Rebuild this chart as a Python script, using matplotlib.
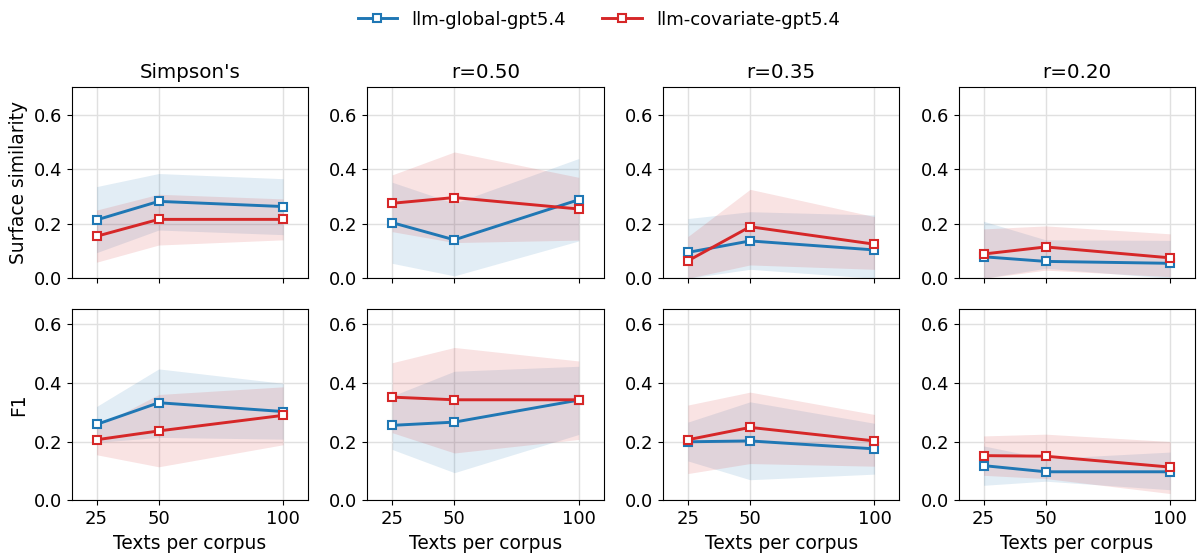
import matplotlib
matplotlib.use("Agg")
import matplotlib.pyplot as plt
import numpy as np

sizes = [25, 50, 100]
panels = ["Simpson's", "r=0.50", "r=0.35", "r=0.20"]
metrics = ["Surface similarity", "F1"]
series = ["llm-global-gpt5.4", "llm-covariate-gpt5.4"]
colors = ["#1f77b4", "#d62728"]

# Surface similarity: mean, lower, upper per panel
sim_global_mean = [[0.214, 0.282, 0.263], [0.204, 0.141, 0.288], [0.095, 0.137, 0.104], [0.079, 0.062, 0.055]]
sim_global_lo = [[0.094, 0.177, 0.160], [0.055, 0.009, 0.137], [0.000, 0.033, 0.000], [0.000, 0.037, 0.000]]
sim_global_hi = [[0.336, 0.384, 0.365], [0.352, 0.275, 0.439], [0.219, 0.244, 0.232], [0.209, 0.141, 0.139]]
sim_cov_mean = [[0.154, 0.216, 0.216], [0.275, 0.296, 0.254], [0.064, 0.189, 0.125], [0.089, 0.115, 0.075]]
sim_cov_lo = [[0.059, 0.122, 0.141], [0.171, 0.131, 0.140], [0.000, 0.049, 0.033], [0.000, 0.030, 0.006]]
sim_cov_hi = [[0.250, 0.308, 0.291], [0.379, 0.463, 0.370], [0.153, 0.326, 0.226], [0.181, 0.192, 0.163]]

# F1: mean, lower, upper per panel
f1_global_mean = [[0.258, 0.332, 0.302], [0.255, 0.266, 0.341], [0.199, 0.202, 0.175], [0.118, 0.097, 0.097]]
f1_global_lo = [[0.197, 0.214, 0.208], [0.173, 0.094, 0.224], [0.134, 0.070, 0.089], [0.051, 0.065, 0.036]]
f1_global_hi = [[0.319, 0.447, 0.398], [0.355, 0.439, 0.456], [0.266, 0.335, 0.262], [0.185, 0.142, 0.164]]
f1_cov_mean = [[0.206, 0.236, 0.289], [0.351, 0.342, 0.342], [0.206, 0.248, 0.202], [0.152, 0.150, 0.113]]
f1_cov_lo = [[0.155, 0.114, 0.189], [0.230, 0.161, 0.207], [0.091, 0.125, 0.116], [0.085, 0.074, 0.023]]
f1_cov_hi = [[0.250, 0.360, 0.386], [0.468, 0.520, 0.474], [0.324, 0.368, 0.292], [0.219, 0.225, 0.200]]

data = {
    0: [(sim_global_mean, sim_global_lo, sim_global_hi), (sim_cov_mean, sim_cov_lo, sim_cov_hi)],
    1: [(f1_global_mean, f1_global_lo, f1_global_hi), (f1_cov_mean, f1_cov_lo, f1_cov_hi)],
}
ylims = [(0, 0.7), (0, 0.65)]

plt.rcParams['font.family'] = ['DejaVu Sans']
fig, axes = plt.subplots(2, 4, figsize=(11.98, 5.56), dpi=100, sharex=True)
fig.subplots_adjust(left=0.0598, right=0.9975, top=0.843, bottom=0.1002, wspace=0.251, hspace=0.162)

handles = []
for r in range(2):
    for c in range(4):
        ax = axes[r, c]
        for s in range(2):
            mean, lo, hi = data[r][s]
            ax.fill_between(sizes, lo[c], hi[c], color=colors[s], alpha=0.13, linewidth=0)
            h, = ax.plot(sizes, mean[c], color=colors[s], lw=2.1, marker='s', ms=6.2,
                         mfc='white', mec=colors[s], mew=1.5, label=series[s])
            if r == 0 and c == 0:
                handles.append(h)
        ax.set_ylim(*ylims[r])
        ax.set_xlim(15, 110)
        ax.set_xticks(sizes)
        ax.set_yticks([0.0, 0.2, 0.4, 0.6])
        ax.set_yticklabels(["0.0", "0.2", "0.4", "0.6"])
        ax.grid(True, color='#e0e0e0', lw=1.0)
        ax.set_axisbelow(True)
        ax.tick_params(labelsize=13)
        if r == 0:
            ax.set_title(panels[c], fontsize=14.3, pad=7)
        else:
            ax.set_xlabel("Texts per corpus", fontsize=13.4)
        if c == 0:
            ax.set_ylabel(metrics[r], fontsize=13.4)

fig.legend(handles, series, loc='upper center', ncol=2, frameon=False, fontsize=13,
           bbox_to_anchor=(0.5, 1.01), handlelength=2.2, columnspacing=2)

fig.savefig("out.png", dpi=100)
